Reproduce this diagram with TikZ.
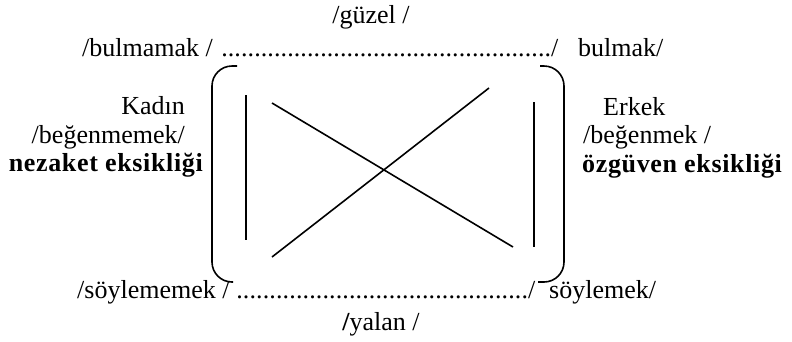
\documentclass[tikz,border=0pt]{standalone}
\usepackage{fontspec}
\setmainfont{Liberation Serif}
\newfontfamily\tnrfont{Liberation Serif}
\newfontfamily\tnrbold{Liberation Serif Bold}[LetterSpace=2.5]
\usepackage{xcolor}
\usetikzlibrary{positioning}
\definecolor{dgInk}{HTML}{000000}
\newcommand{\dotrun}[1]{\hbox to #1{\xleaders\hbox{.}\hfill}}
\tikzset{
  wrd/.style={inner sep=0pt,font=\tnrfont\fontsize{26}{28}\selectfont,text=dgInk},
  bwrd/.style={wrd,font=\tnrbold\fontsize{26}{28}\selectfont},
  brk/.style={draw=dgInk,line width=1.6pt,rounded corners=20pt},
  ln/.style={draw=dgInk,line width=1.6pt},
}

\begin{document}
\begin{tikzpicture}[x=1pt,y=-1pt]
  \useasboundingbox (0,0) rectangle (792,341);

  % top row
  \node[wrd,anchor=base] (guzel) at (371,23) {/güzel /};
  \node[wrd,anchor=base west] (bulmamak) at (82,56) {/bulmamak /};
  \node[wrd,anchor=base west] (dotsTop) at (221,56) {\dotrun{330pt}/};
  \node[wrd,anchor=base west] (bulmak) at (578,56) {bulmak/};

  % side labels
  \node[wrd,anchor=base east] (kadin) at (185,114) {Kadın};
  \node[wrd,anchor=base east] (begenmemek) at (185,143) {/beğenmemek/};
  \node[bwrd,anchor=base east] (nezaket) at (203,171) {nezaket eksikliği};
  \node[wrd,anchor=base west] (erkek) at (603,115) {Erkek};
  \node[wrd,anchor=base west] (begenmek) at (583,143) {/beğenmek /};
  \node[bwrd,anchor=base west] (ozguven) at (582,172) {özgüven eksikliği};

  % bottom row
  \node[wrd,anchor=base west] (soylememek) at (77,298) {/söylememek /};
  \node[wrd,anchor=base west] (dotsBot) at (236,298) {\dotrun{292pt}/};
  \node[wrd,anchor=base west] (soylemek) at (549,298) {söylemek/};
  \node[wrd,anchor=base] (yalan) at (381,330) {{\tnrbold/}yalan /};

  % brackets and square of opposition
  \draw[brk] (237,66) -- (212,66) -- (212,282) -- (233,282);
  \draw[brk] (540,66) -- (564,66) -- (564,282) -- (538,282);
  \draw[ln] (246,95) -- (246,240);
  \draw[ln] (534,102) -- (534,247);
  \draw[ln] (272,103) -- (513,247);
  \draw[ln] (272,257) -- (489,88);
\end{tikzpicture}
\end{document}
